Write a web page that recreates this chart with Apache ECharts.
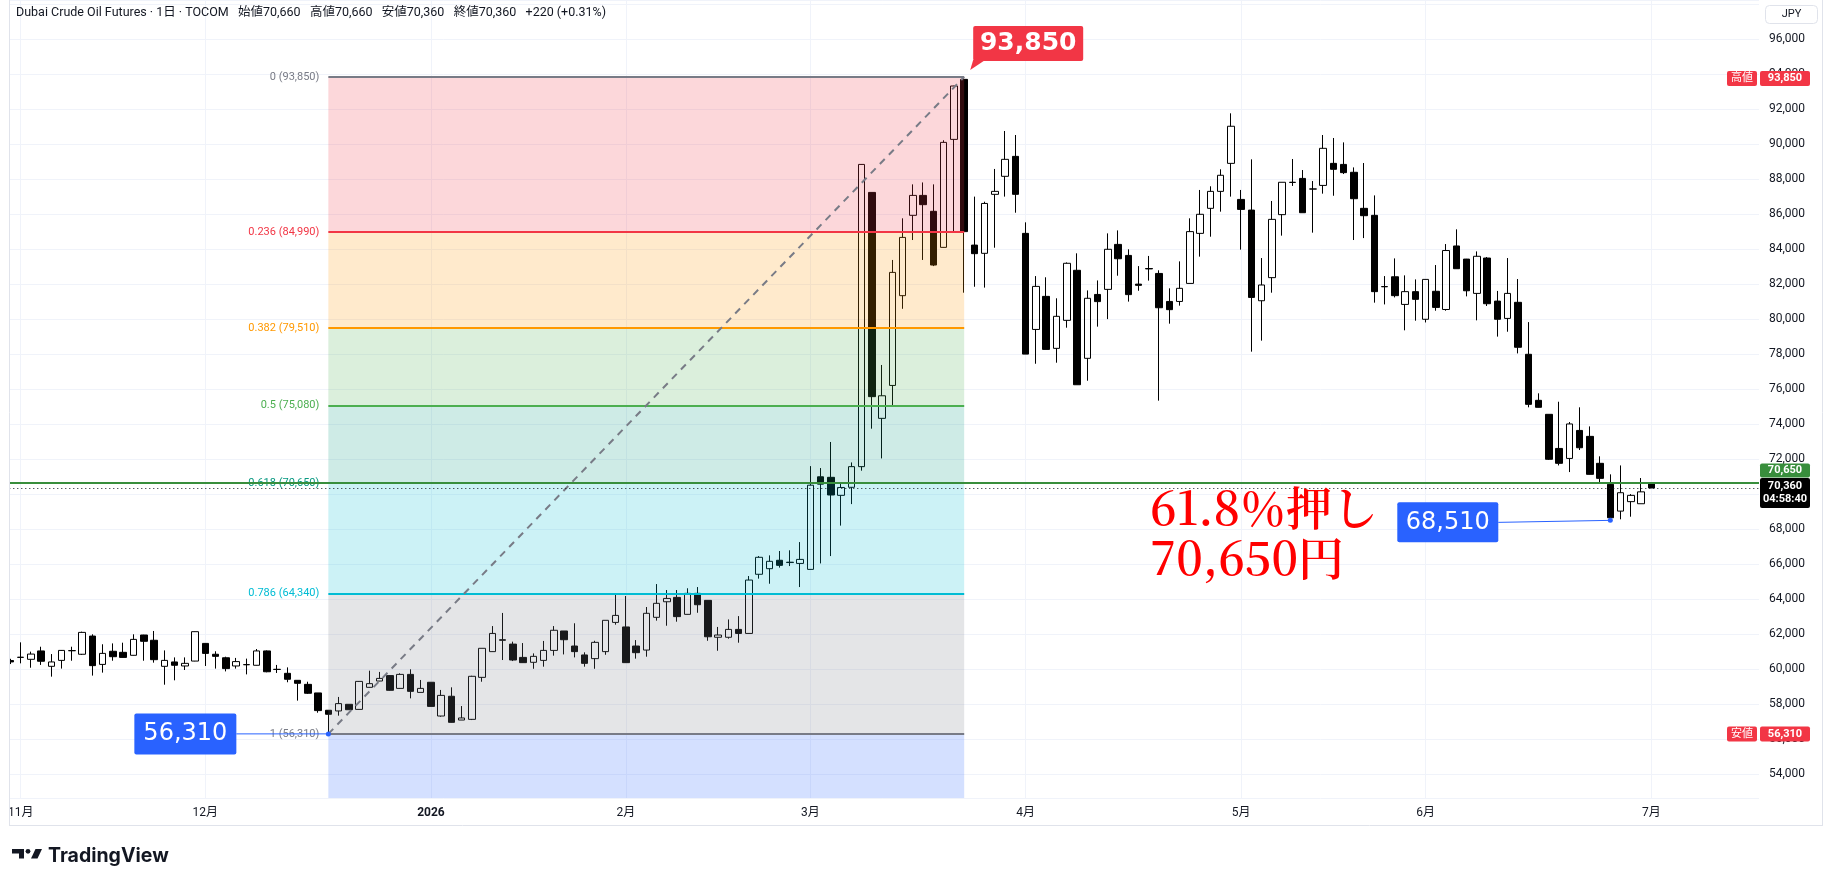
<!DOCTYPE html>
<html>
<head>
<meta charset="utf-8">
<title>Dubai Crude Oil Futures</title>
<script src="https://cdn.jsdelivr.net/npm/echarts@6/dist/echarts.min.js"></script>
<style>
  html, body { margin: 0; padding: 0; background: #fff; }
  #main { width: 1827px; height: 887px; }
</style>
</head>
<body>
<div id="main"></div>
<script>
// trading days shown on the chart (TOCOM, daily)
const dates = [
  '2025-10-31',
  '2025-11-04','2025-11-05','2025-11-06','2025-11-07','2025-11-10','2025-11-11','2025-11-12','2025-11-13','2025-11-14',
  '2025-11-17','2025-11-18','2025-11-19','2025-11-20','2025-11-21','2025-11-25','2025-11-26','2025-11-27','2025-11-28',
  '2025-12-01','2025-12-02','2025-12-03','2025-12-04','2025-12-05','2025-12-08','2025-12-09','2025-12-10','2025-12-11','2025-12-12',
  '2025-12-15','2025-12-16','2025-12-17','2025-12-18','2025-12-19','2025-12-22','2025-12-23','2025-12-24','2025-12-25','2025-12-26',
  '2025-12-29','2025-12-30',
  '2026-01-05','2026-01-06','2026-01-07','2026-01-08','2026-01-09','2026-01-13','2026-01-14','2026-01-15','2026-01-16',
  '2026-01-19','2026-01-20','2026-01-21','2026-01-22','2026-01-23','2026-01-26','2026-01-27','2026-01-28','2026-01-29','2026-01-30',
  '2026-02-02','2026-02-03','2026-02-04','2026-02-05','2026-02-06','2026-02-09','2026-02-10','2026-02-12','2026-02-13',
  '2026-02-16','2026-02-17','2026-02-18','2026-02-19','2026-02-20','2026-02-24','2026-02-25','2026-02-26','2026-02-27',
  '2026-03-02','2026-03-03','2026-03-04','2026-03-05','2026-03-06','2026-03-09','2026-03-10','2026-03-11','2026-03-12','2026-03-13',
  '2026-03-16','2026-03-17','2026-03-18','2026-03-19','2026-03-23','2026-03-24','2026-03-25','2026-03-26','2026-03-27','2026-03-30','2026-03-31',
  '2026-04-01','2026-04-02','2026-04-03','2026-04-06','2026-04-07','2026-04-08','2026-04-09','2026-04-10','2026-04-13','2026-04-14',
  '2026-04-15','2026-04-16','2026-04-17','2026-04-20','2026-04-21','2026-04-22','2026-04-23','2026-04-24','2026-04-27','2026-04-28','2026-04-30',
  '2026-05-01','2026-05-07','2026-05-08','2026-05-11','2026-05-12','2026-05-13','2026-05-14','2026-05-15','2026-05-18',
  '2026-05-19','2026-05-20','2026-05-21','2026-05-22','2026-05-25','2026-05-26','2026-05-27','2026-05-28','2026-05-29',
  '2026-06-01','2026-06-02','2026-06-03','2026-06-04','2026-06-05','2026-06-08','2026-06-09','2026-06-10','2026-06-11','2026-06-12',
  '2026-06-15','2026-06-16','2026-06-17','2026-06-18','2026-06-19','2026-06-22','2026-06-23','2026-06-24','2026-06-25','2026-06-26',
  '2026-06-29','2026-06-30',
  '2026-07-01'
];
// empty slots to the right of the last bar
const future = ['2026-07-02','2026-07-03','2026-07-06','2026-07-07','2026-07-08','2026-07-09','2026-07-10','2026-07-13','2026-07-14','2026-07-15'];

const open = [
  60500,60680,60570,61050,60170,60510,61060,60860,61900,60280,
  61030,60970,60800,61960,61660,60170,60420,60190,60470,61480,
  60860,60660,60190,60260,60230,61050,60000,59770,59370,59140,
  58650,57660,57620,58000,57710,58970,59330,59640,58910,59710,
  58680,59260,57330,58460,57100,57140,59540,61010,61690,61440,
  60680,60400,60510,61080,62190,61330,60820,60610,61010,62680,
  62420,61330,61100,62970,63860,64110,63140,64340,63940,61830,
  61830,62280,62050,65430,65750,66230,66120,66050,65710,71000,
  70970,69940,70400,71580,87250,74340,76220,81350,85940,87080,
  86170,84110,90280,93710,84240,83770,87140,88170,89310,84910,
  79420,81310,78340,79940,82800,77770,81420,81710,84280,83650,
  82010,82900,82620,81020,81020,82050,84910,86340,87310,88910,
  86850,86240,81060,82380,85980,87830,88050,87450,87650,88910,
  88850,88400,86340,85940,81870,82430,80850,81580,80000,81600,
  80560,84190,83440,81480,83500,81040,80050,80970,78000,75370,
  74570,72620,72050,73650,73310,71770,70570,69040,69580,69460,
  70660
];
const high = [
  60600,61540,61010,61290,60870,61100,61290,62150,62000,61430,
  61480,61520,62000,61970,62190,61080,60680,60680,62160,61490,
  61030,60720,60650,60610,61160,61080,60250,60110,59380,59290,
  58650,57660,58420,58000,59330,59920,59850,59670,59770,60000,
  59390,59260,58820,58970,57900,59630,61200,62470,63220,61580,
  61500,60910,61620,62470,62190,62630,60970,61630,62800,64300,
  64190,61670,63560,64870,64530,64530,64630,64700,63940,62420,
  62850,63040,65330,66470,66510,66760,66800,67270,71610,71500,
  72990,70620,71820,88870,87260,77390,83390,85770,87710,87820,
  87710,90230,93340,93850,87010,86720,88590,90760,90530,85540,
  82470,82400,81200,83250,83770,81650,82220,84910,85080,84000,
  83040,83620,82800,81770,83310,85770,87390,87600,88570,91770,
  87390,89140,83500,86760,87830,89160,88530,87900,90530,90360,
  90110,88680,88930,87080,82470,83480,82510,82280,82290,83100,
  84300,85140,83450,83880,83560,81620,83500,82300,79840,75770,
  74570,75290,74130,74970,73880,72170,71140,71650,70010,70930,
  70660
];
const low = [
  60300,60340,60090,60250,59580,60040,60490,60820,59640,59810,
  60490,60670,60790,60490,60380,59120,59370,59960,60460,60190,
  60040,59880,60040,59710,60220,59830,59790,59260,58210,58590,
  57520,56310,57350,57690,57700,58960,59320,58780,58890,58340,
  58680,57880,57290,56960,57100,57100,59290,61000,60530,60470,
  60370,60030,60150,60780,60850,60680,60150,60030,60830,62550,
  60370,60610,60720,62780,62490,62720,63130,63230,61630,61060,
  61750,61520,62050,65180,64890,65810,65900,64700,65700,66050,
  66470,68210,69440,71350,73750,72050,75100,80600,84530,83390,
  83040,84100,85010,81520,81860,81810,84090,87010,86090,78010,
  77460,78280,77520,79520,76260,76490,79580,80010,82490,81010,
  81630,82210,75350,79750,80780,82050,83580,84720,86150,87010,
  83980,78150,78780,81520,84780,87620,86090,84950,87180,87060,
  88300,84530,84640,80950,80850,81250,79370,79920,79820,80490,
  80490,82890,81310,79940,80760,79010,79290,78050,74970,74960,
  71960,71650,71270,72530,71130,70590,68510,68570,68720,69460,
  70360
];
const close = [
  60420,60690,60870,60460,60420,61080,61070,62110,60210,60910,
  60720,60680,61710,61600,60550,60510,60230,60340,62150,60910,
  60740,60040,60440,60270,61050,59860,59990,59430,59200,58630,
  57640,57430,58040,57690,59310,59180,59480,58800,59710,58740,
  58910,57880,58510,56970,57220,59600,61200,62050,61660,60530,
  60380,60740,61080,62230,61690,61010,60340,61540,62800,63080,
  60380,60950,63200,63770,64050,63010,64340,63690,61860,61960,
  62280,62050,65100,66400,66170,65940,66100,66280,70520,70580,
  69960,70390,71580,88850,75580,75630,82680,84680,87080,86550,
  83100,90110,93330,85010,83750,86620,87310,89140,87140,78010,
  81880,78280,80170,83200,76260,81200,81010,84000,83460,81410,
  81940,82880,80660,80550,81770,85010,86000,87310,88230,91030,
  86280,81250,81960,85710,87830,87820,86090,87440,89770,88570,
  88380,86890,85920,81580,81860,81350,81580,81140,82280,80680,
  83930,82890,81630,83600,80890,80000,81480,78400,75140,74970,
  72000,71770,74020,72660,71140,70910,68660,70090,69940,70140,
  70360
];

// fibonacci retracement drawn from the December low to the March high
const fibLevels = ['0', '0.236', '0.382', '0.5', '0.618', '0.786', '1'];
const fibPrices = [93850, 84990, 79510, 75080, 70650, 64340, 56310];
const fibColors = ['#787b86', '#f23645', '#ff9800', '#4caf50', '#089981', '#00bcd4', '#787b86'];
const fibFills = ['rgba(242,54,69,0.2)', 'rgba(255,152,0,0.2)', 'rgba(76,175,80,0.2)', 'rgba(8,153,129,0.2)',
                  'rgba(0,188,212,0.2)', 'rgba(120,123,134,0.2)', 'rgba(41,98,255,0.2)'];
const fibFrom = '2025-12-17';
const fibTo = '2026-03-24';
const lineLevel = 70650;   // horizontal line at the 61.8% level
const recentLowDate = '2026-06-25';
const recentLow = 68510;

const Y_MIN = 52646, Y_MAX = 98245;
const GRID = { left: 5.3, right: 68, top: 0, bottom: 89 };
const FONT = 'Roboto, "Noto Sans CJK JP", sans-serif';
const TAGFONT = '"DejaVu Sans", sans-serif';
const SERIF = 'Noto Serif CJK JP';

const fmt = v => v.toLocaleString('en-US');
const cats = dates.concat(future);
const candles = dates.map((d, i) => [open[i], close[i], low[i], high[i]]);
const isMonthStart = i => i > 0 && cats[i].slice(0, 7) !== cats[i - 1].slice(0, 7);
const last = dates.length - 1;
const lastPrice = close[last];

const chart = echarts.init(document.getElementById('main'));

const bandData = fibFills.map((fill, i) => [
  { coord: [fibFrom, fibPrices[i]], itemStyle: { color: fill } },
  { coord: [fibTo, i + 1 < fibPrices.length ? fibPrices[i + 1] : Y_MIN] }
]);

const fibLineData = fibPrices.map((p, i) => [
  {
    coord: [fibFrom, p],
    lineStyle: { color: fibColors[i], width: 2, type: 'solid' },
    label: {
      show: true, position: 'start', distance: 9,
      formatter: fibLevels[i] + ' (' + fmt(p) + ')',
      color: fibColors[i], fontSize: 11, fontFamily: FONT
    }
  },
  { coord: [fibTo, p] }
]);
// dashed trend line of the retracement
fibLineData.push([
  { coord: [fibFrom, fibPrices[fibPrices.length - 1]], lineStyle: { color: '#787b86', width: 2, type: [7, 6] }, label: { show: false } },
  { coord: [fibTo, fibPrices[0]] }
]);

chart.setOption({
  animation: false,
  backgroundColor: '#fff',
  grid: GRID,
  xAxis: {
    type: 'category',
    data: cats,
    boundaryGap: true,
    axisLine: { show: false },
    axisTick: { show: false },
    axisLabel: {
      interval: (i) => isMonthStart(i),
      margin: 9,
      color: '#131722',
      fontSize: 12,
      fontFamily: FONT,
      formatter: (val) => {
        const m = +val.slice(5, 7);
        return m === 1 ? '{b|' + val.slice(0, 4) + '}' : m + '月';
      },
      rich: { b: { fontWeight: 'bold', fontSize: 12, color: '#131722', fontFamily: FONT } }
    },
    splitLine: {
      show: true,
      interval: (i) => isMonthStart(i),
      alignWithLabel: true,
      lineStyle: { color: '#f0f3fa', width: 1 }
    }
  },
  yAxis: {
    type: 'value',
    position: 'right',
    min: Y_MIN,
    max: Y_MAX,
    splitNumber: 23,
    axisLine: { show: false },
    axisTick: { show: false },
    axisLabel: {
      margin: 10,
      color: '#131722',
      fontSize: 12,
      fontFamily: FONT,
      formatter: v => (v % 2000 === 0 && v <= 96000) ? fmt(v) : ''
    },
    splitLine: { lineStyle: { color: '#f0f3fa', width: 1 } }
  },
  series: [
    {
      type: 'candlestick',
      data: candles,
      z: 1,
      barWidth: 7,
      silent: true,
      itemStyle: {
        color: 'rgba(255,255,255,0)',
        color0: '#000',
        borderColor: '#000',
        borderColor0: '#000',
        borderWidth: 1
      }
    },
    {
      type: 'line',
      data: [],
      z: 3,
      silent: true,
      markArea: { silent: true, z: 3, data: bandData },
      markLine: { silent: true, z: 4, symbol: ['none', 'none'], data: fibLineData }
    },
    {
      type: 'line',
      data: [],
      z: 4,
      silent: true,
      markLine: {
        silent: true, z: 5, symbol: ['none', 'none'],
        data: [
          { yAxis: lineLevel, lineStyle: { color: '#388e3c', width: 2, type: 'solid' }, label: { show: false } },
          { yAxis: lastPrice, lineStyle: { color: '#131722', width: 1, type: [1, 3] }, label: { show: false } }
        ]
      }
    }
  ]
});

// annotations placed through the chart's own scales
const P = (d, v) => chart.convertToPixel({ gridIndex: 0 }, [d, v]);
const axisX = chart.getWidth() - GRID.right;

function tag(x, yc, w, h, text, bg, font, lh) {
  return [
    { type: 'rect', z: 50, shape: { x: x, y: yc - h / 2, width: w, height: h, r: 2 }, style: { fill: bg } },
    { type: 'text', z: 51, x: x + w / 2, y: yc, style: { text: text, fill: '#fff', font: font, align: 'center', verticalAlign: 'middle', lineHeight: lh || 13 } }
  ];
}

const hiPt = P(fibTo, fibPrices[0]);
const loPt = P(fibFrom, fibPrices[fibPrices.length - 1]);
const rlPt = P(recentLowDate, recentLow);
const yLast = P(fibTo, lastPrice)[1];

const prevClose = close[last - 1];
const chg = lastPrice - prevClose;
const header = 'Dubai Crude Oil Futures · 1日 · TOCOM   始値' + fmt(open[last]) + '   高値' + fmt(high[last]) +
  '   安値' + fmt(low[last]) + '   終値' + fmt(close[last]) + '   ' + (chg >= 0 ? '+' : '') + chg +
  ' (' + (chg >= 0 ? '+' : '') + (chg / prevClose * 100).toFixed(2) + '%)';

const g = [];
// left margin mask and frame
g.push({ type: 'rect', z: 40, shape: { x: 0, y: 0, width: 9, height: 887 }, style: { fill: '#fff' } });
g.push({ type: 'line', z: 41, shape: { x1: 9.5, y1: 0, x2: 9.5, y2: 825 }, style: { stroke: '#e0e3eb', lineWidth: 1 } });
g.push({ type: 'line', z: 41, shape: { x1: 9, y1: 825.5, x2: 1823, y2: 825.5 }, style: { stroke: '#e0e3eb', lineWidth: 1 } });
g.push({ type: 'line', z: 41, shape: { x1: 1822.5, y1: 0, x2: 1822.5, y2: 825 }, style: { stroke: '#e0e3eb', lineWidth: 1 } });

// header
g.push({ type: 'text', z: 60, x: 16, y: 12.5, style: { text: header, fill: '#131722', fontSize: 12.5, fontFamily: FONT, verticalAlign: 'middle' } });

// currency box
g.push({ type: 'rect', z: 60, shape: { x: 1765.5, y: 5.5, width: 52, height: 18, r: 4 }, style: { fill: '#fff', stroke: '#e0e3eb', lineWidth: 1 } });
g.push({ type: 'text', z: 61, x: 1791.5, y: 14.5, style: { text: 'JPY', fill: '#131722', font: '11px ' + FONT, align: 'center', verticalAlign: 'middle' } });

// price axis tags
g.push(...tag(axisX + 1, hiPt[1] + 1.5, 50, 15, fmt(fibPrices[0]), '#f23645', 'bold 11px ' + FONT));
g.push(...tag(axisX - 32, hiPt[1] + 1.5, 30, 15, '高値', '#f23645', '11px ' + FONT));
g.push(...tag(axisX + 1, loPt[1], 50, 15, fmt(fibPrices[fibPrices.length - 1]), '#f23645', 'bold 11px ' + FONT));
g.push(...tag(axisX - 32, loPt[1], 30, 15, '安値', '#f23645', '11px ' + FONT));
g.push(...tag(axisX + 1, yLast + 5, 50, 30, fmt(lastPrice) + '\n04:58:40', '#000', 'bold 11px ' + FONT, 13));
g.push(...tag(axisX + 1, yLast - 17.5, 50, 14, fmt(lineLevel), '#388e3c', 'bold 11px ' + FONT));

// red call-out at the high
g.push({ type: 'polygon', z: 55, shape: { points: [[hiPt[0] + 6, hiPt[1] - 7], [hiPt[0] + 9, hiPt[1] - 17], [hiPt[0] + 21, hiPt[1] - 17]] }, style: { fill: '#f23645' } });
g.push(...tag(hiPt[0] + 9, hiPt[1] - 33.5, 110, 35, fmt(fibPrices[0]), '#f23645', 'bold 25px ' + TAGFONT));

// blue call-outs at the lows
g.push({ type: 'line', z: 55, shape: { x1: loPt[0] - 92, y1: loPt[1], x2: loPt[0], y2: loPt[1] }, style: { stroke: '#2962ff', lineWidth: 1 } });
g.push({ type: 'circle', z: 56, shape: { cx: loPt[0], cy: loPt[1], r: 2.5 }, style: { fill: '#2962ff' } });
g.push(...tag(loPt[0] - 194, loPt[1], 102, 41, fmt(fibPrices[fibPrices.length - 1]), '#2962ff', '24px ' + TAGFONT));

g.push({ type: 'line', z: 55, shape: { x1: rlPt[0] - 112, y1: rlPt[1] + 2, x2: rlPt[0], y2: rlPt[1] }, style: { stroke: '#2962ff', lineWidth: 1 } });
g.push({ type: 'circle', z: 56, shape: { cx: rlPt[0], cy: rlPt[1], r: 2.5 }, style: { fill: '#2962ff' } });
g.push(...tag(rlPt[0] - 213, rlPt[1] + 2, 101, 40, fmt(recentLow), '#2962ff', '24px ' + TAGFONT));

// hand-written note
g.push({ type: 'text', z: 57, x: 1150, y: 508, style: { text: '61.8％押し', fill: '#ff0000', fontSize: 46, fontWeight: 600, fontFamily: SERIF, verticalAlign: 'middle' } });
g.push({ type: 'text', z: 57, x: 1150, y: 558, style: { text: fmt(lineLevel) + '円', fill: '#ff0000', fontSize: 46, fontWeight: 600, fontFamily: SERIF, verticalAlign: 'middle' } });

// TradingView logo
g.push({ type: 'polygon', z: 60, shape: { points: [[12, 849], [24, 849], [24, 858.5], [19, 858.5], [19, 853.5], [12, 853.5]] }, style: { fill: '#131722' } });
g.push({ type: 'circle', z: 60, shape: { cx: 28, cy: 851.3, r: 2.4 }, style: { fill: '#131722' } });
g.push({ type: 'polygon', z: 60, shape: { points: [[35.5, 849], [42, 849], [37.5, 858.5], [31, 858.5]] }, style: { fill: '#131722' } });
g.push({ type: 'text', z: 60, x: 48, y: 856, style: { text: 'TradingView', fill: '#131722', fontSize: 19.5, fontWeight: 'bold', fontFamily: 'Inter, Roboto, sans-serif', verticalAlign: 'middle' } });

chart.setOption({ graphic: g });
</script>
</body>
</html>
